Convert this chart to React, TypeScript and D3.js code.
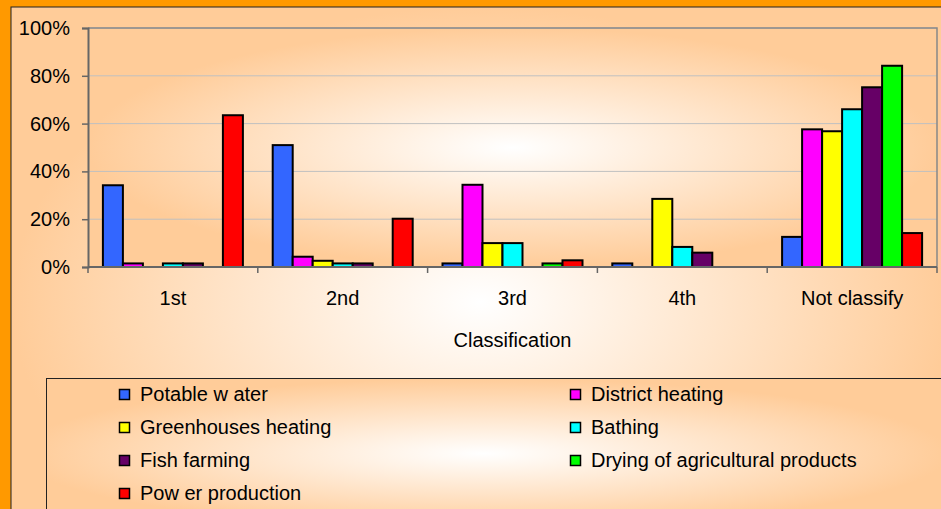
import React, { useEffect, useRef } from "react";
import * as d3 from "d3";

const categories = ["1st", "2nd", "3rd", "4th", "Not classify"];
const seriesNames = [
  "Potable w ater",
  "District heating",
  "Greenhouses heating",
  "Bathing",
  "Fish farming",
  "Drying of agricultural products",
  "Pow er production",
];
const seriesColors = ["#3366FF", "#FF00FF", "#FFFF00", "#00FFFF", "#660066", "#00FF00", "#FF0000"];

// percent per classification, one array per use
const potableWater = [34.2, 51, 1.5, 1.5, 12.6];
const districtHeating = [1.5, 4.3, 34.4, 0, 57.6];
const greenhousesHeating = [0, 2.6, 10, 28.5, 56.8];
const bathing = [1.5, 1.5, 10, 8.4, 66];
const fishFarming = [1.5, 1.5, 0, 6, 75.2];
const dryingProducts = [0, 0, 1.5, 0, 84.2];
const powerProduction = [63.5, 20.2, 2.8, 0, 14.2];

const yTicks = [0, 20, 40, 60, 80, 100];

const width = 941;
const height = 509;
const font = "'Liberation Sans', Arial, sans-serif";

const App = () => {
  const ref = useRef<SVGSVGElement>(null);

  useEffect(() => {
    const svg = d3.select(ref.current);
    svg.selectAll("*").remove();

    const values = [
      potableWater,
      districtHeating,
      greenhousesHeating,
      bathing,
      fishFarming,
      dryingProducts,
      powerProduction,
    ];

    const defs = svg.append("defs");
    const grad = (id: string, cx: number, cy: number) => {
      const g = defs
        .append("radialGradient")
        .attr("id", id)
        .attr("cx", cx)
        .attr("cy", cy)
        .attr("r", 0.5);
      g.append("stop").attr("offset", "0%").attr("stop-color", "#FFFFFF");
      g.append("stop").attr("offset", "100%").attr("stop-color", "#FFCC99");
    };
    grad("chartBg", 0.5, 0.5);
    grad("plotBg", 0.5, 0.5);
    grad("legendBg", 0.47, 0.5);

    // orange frame + chart area
    svg.append("rect").attr("width", width).attr("height", height).attr("fill", "#FF9900");
    svg
      .append("rect")
      .attr("x", 11)
      .attr("y", 7)
      .attr("width", 940)
      .attr("height", 590)
      .attr("fill", "url(#chartBg)")
      .attr("stroke", "#222")
      .attr("stroke-width", 1);

    const left = 88;
    const right = 937;
    const top = 28;
    const bottom = 267;

    const x = d3.scaleBand<string>().domain(categories).range([left, right]);
    const xs = d3
      .scaleBand<number>()
      .domain(d3.range(seriesNames.length))
      .range([0, x.bandwidth()])
      .paddingInner(0)
      .paddingOuter(0.745);
    const y = d3.scaleLinear().domain([0, 100]).range([bottom, top]);

    // plot area
    svg
      .append("rect")
      .attr("x", left)
      .attr("y", top)
      .attr("width", right - left)
      .attr("height", bottom - top)
      .attr("fill", "url(#plotBg)");

    // gridlines
    svg
      .append("g")
      .selectAll("line")
      .data(yTicks.filter((d) => d > 0))
      .join("line")
      .attr("x1", left)
      .attr("x2", right)
      .attr("y1", (d) => y(d))
      .attr("y2", (d) => y(d))
      .attr("stroke", "#C0C0C0")
      .attr("stroke-width", 1);

    // plot border top & right
    svg
      .append("path")
      .attr("d", `M${left},${top}H${right}V${bottom}`)
      .attr("fill", "none")
      .attr("stroke", "#888")
      .attr("stroke-width", 1.5);

    // bars
    const groups = svg
      .append("g")
      .selectAll("g")
      .data(values)
      .join("g")
      .attr("fill", (d, i) => seriesColors[i]);

    groups
      .selectAll("rect")
      .data((d, i) =>
        d.map((v, j) => ({ v, s: i, c: categories[j] })).filter((e) => e.v > 0)
      )
      .join("rect")
      .attr("x", (d) => (x(d.c) as number) + (xs(d.s) as number))
      .attr("width", xs.bandwidth())
      .attr("y", (d) => y(d.v))
      .attr("height", (d) => bottom - y(d.v))
      .attr("stroke", "#000")
      .attr("stroke-width", 2);

    // y axis
    const yAxis = svg
      .append("g")
      .attr("transform", `translate(${left},0)`)
      .call(
        d3
          .axisLeft(y)
          .tickValues(yTicks)
          .tickSize(6)
          .tickPadding(12)
          .tickFormat((d) => `${d}%`)
      );
    yAxis.select(".domain").attr("stroke", "#666").attr("stroke-width", 2);
    yAxis.selectAll(".tick line").attr("stroke", "#666").attr("stroke-width", 1.5);
    yAxis
      .selectAll(".tick text")
      .attr("font-family", font)
      .attr("font-size", 20)
      .attr("fill", "#000");

    // x axis
    svg
      .append("line")
      .attr("x1", left)
      .attr("x2", right)
      .attr("y1", bottom)
      .attr("y2", bottom)
      .attr("stroke", "#666")
      .attr("stroke-width", 2);
    svg
      .append("g")
      .selectAll("line")
      .data(categories.map((c) => x(c) as number).concat([right]))
      .join("line")
      .attr("x1", (d) => d)
      .attr("x2", (d) => d)
      .attr("y1", bottom)
      .attr("y2", bottom + 6)
      .attr("stroke", "#666")
      .attr("stroke-width", 1.5);
    svg
      .append("g")
      .selectAll("text")
      .data(categories)
      .join("text")
      .attr("x", (d) => (x(d) as number) + x.bandwidth() / 2)
      .attr("y", 305)
      .attr("text-anchor", "middle")
      .attr("font-family", font)
      .attr("font-size", 20)
      .text((d) => d);

    svg
      .append("text")
      .attr("x", (left + right) / 2)
      .attr("y", 347)
      .attr("text-anchor", "middle")
      .attr("font-family", font)
      .attr("font-size", 20)
      .text("Classification");

    // legend
    svg
      .append("rect")
      .attr("x", 46.5)
      .attr("y", 378.5)
      .attr("width", 930)
      .attr("height", 150)
      .attr("fill", "url(#legendBg)")
      .attr("stroke", "#222")
      .attr("stroke-width", 1);

    const legend = svg
      .append("g")
      .selectAll("g")
      .data(seriesNames)
      .join("g")
      .attr(
        "transform",
        (d, i) => `translate(${i % 2 === 0 ? 119 : 570},${401 + Math.floor(i / 2) * 33})`
      );
    legend
      .append("rect")
      .attr("x", 0.5)
      .attr("y", -11.5)
      .attr("width", 10)
      .attr("height", 10)
      .attr("fill", (d, i) => seriesColors[i])
      .attr("stroke", "#000")
      .attr("stroke-width", 1.5);
    legend
      .append("text")
      .attr("x", 21)
      .attr("font-family", font)
      .attr("font-size", 20)
      .text((d) => d);
  }, []);

  return (
    <svg
      ref={ref}
      width={width}
      height={height}
      style={{ position: "absolute", left: 0, top: 0, display: "block" }}
    ></svg>
  );
};

export default App;
